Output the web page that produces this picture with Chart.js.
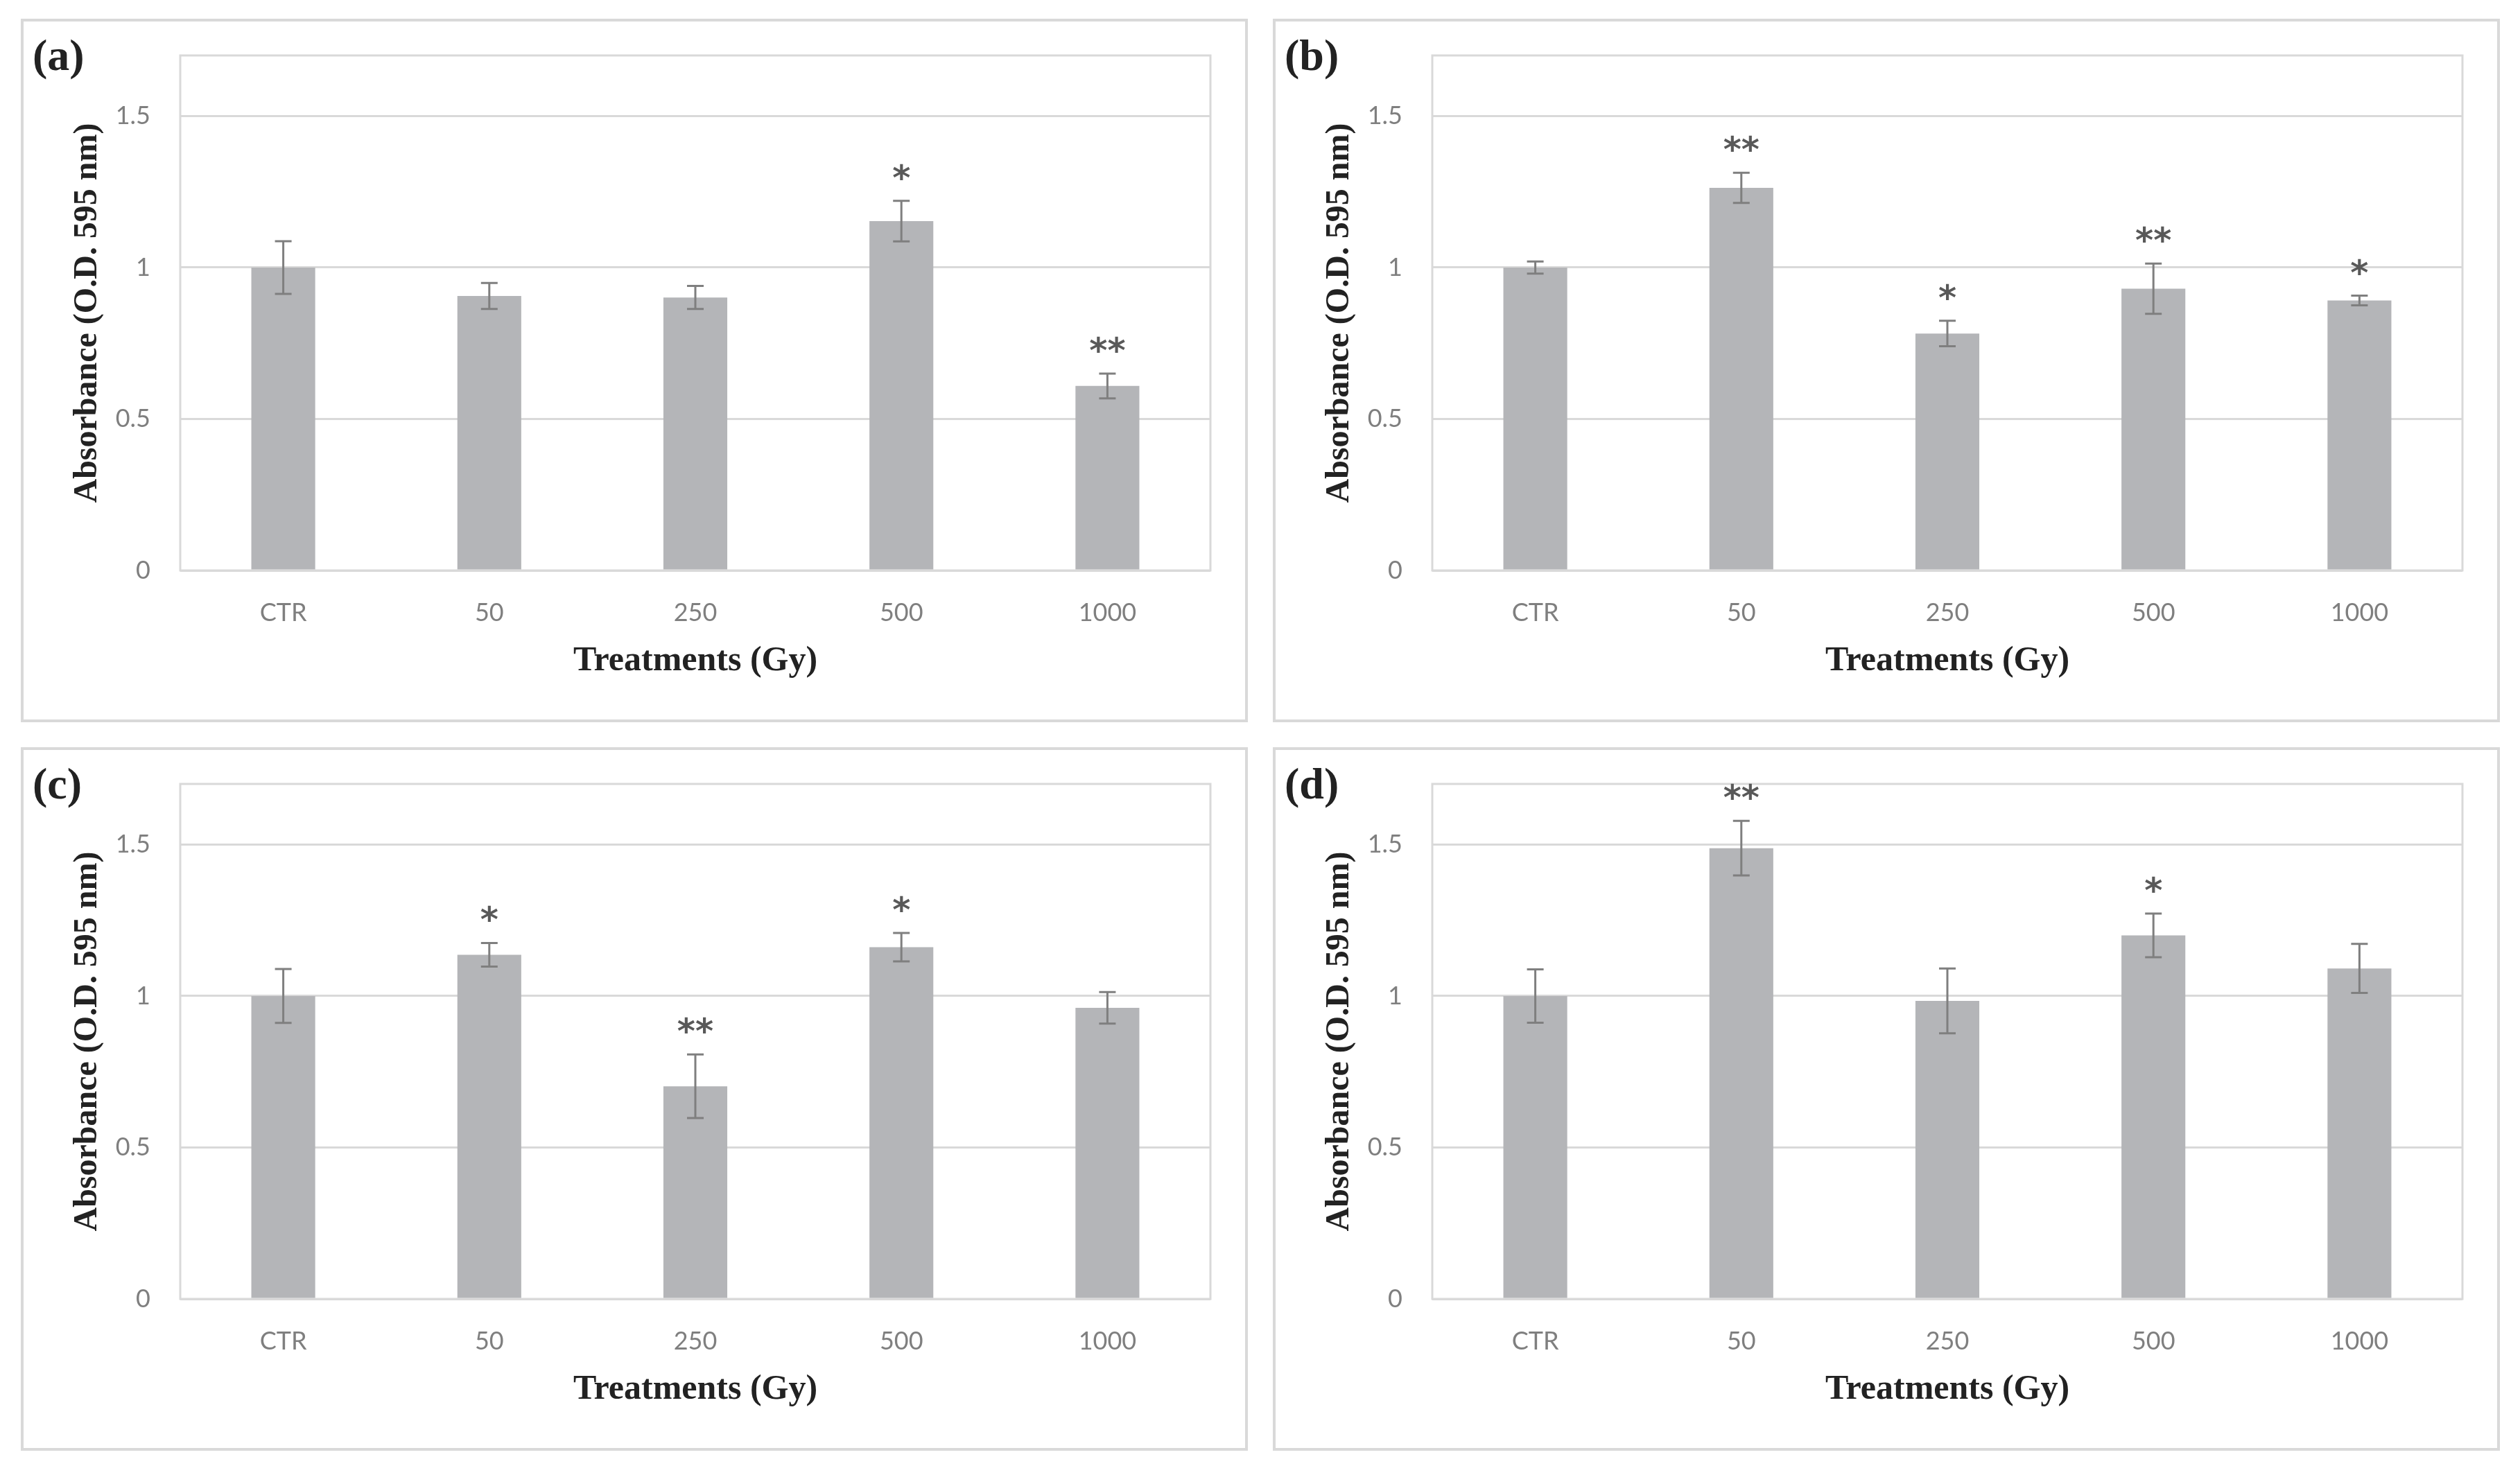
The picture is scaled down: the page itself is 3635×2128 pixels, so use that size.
<!DOCTYPE html>
<html lang="en">
<head>
<meta charset="UTF-8">
<title>Absorbance (O.D. 595 nm) by treatment</title>
<script src="https://cdn.jsdelivr.net/npm/chart.js"></script>
<style>
  body { margin: 0; background: #fff; width: 3635px; height: 2128px; position: relative; overflow: hidden; }
  .panel { position: absolute; width: 1770px; height: 1015px; border: 4px solid #d9d9d9; box-sizing: border-box; background: #fff; }
  .panel canvas { display: block; }
</style>
</head>
<body>
<div class="panel" style="left:30px; top:27px;"><canvas id="chartA" width="1762" height="1007"></canvas></div>
<div class="panel" style="left:1836px; top:27px;"><canvas id="chartB" width="1762" height="1007"></canvas></div>
<div class="panel" style="left:30px; top:1078px;"><canvas id="chartC" width="1762" height="1007"></canvas></div>
<div class="panel" style="left:1836px; top:1078px;"><canvas id="chartD" width="1762" height="1007"></canvas></div>
<script>
// categories and axis ticks
var categories = ['CTR', '50', '250', '500', '1000'];
var yTickValues = [0, 0.5, 1, 1.5];
var yMax = 1.7;

// (a)
var meansA = [1.00, 0.906, 0.901, 1.153, 0.609];
var errA   = [0.087, 0.043, 0.038, 0.067, 0.041];
var starsA = ['', '', '', '*', '**'];
// (b)
var meansB = [1.00, 1.263, 0.782, 0.930, 0.891];
var errB   = [0.020, 0.050, 0.042, 0.083, 0.016];
var starsB = ['', '**', '*', '**', '*'];
// (c)
var meansC = [1.00, 1.136, 0.702, 1.161, 0.961];
var errC   = [0.089, 0.039, 0.105, 0.047, 0.052];
var starsC = ['', '*', '**', '*', ''];
// (d)
var meansD = [1.00, 1.488, 0.984, 1.200, 1.091];
var errD   = [0.088, 0.090, 0.107, 0.072, 0.081];
var starsD = ['', '**', '', '*', ''];

function extrasPlugin(label, errs, stars) {
    return {
        id: 'extras',
        beforeDatasetsDraw: function(chart) {
            // frame round the plot area
            var a = chart.chartArea, ctx = chart.ctx;
            ctx.save();
            ctx.strokeStyle = '#d9d9d9';
            ctx.lineWidth = 3;
            ctx.strokeRect(a.left, a.top, a.right - a.left, a.bottom - a.top);
            ctx.restore();
        },
        afterDatasetsDraw: function(chart) {
            var ctx = chart.ctx, y = chart.scales.y;
            var vals = chart.data.datasets[0].data;
            var bars = chart.getDatasetMeta(0).data;
            ctx.save();
            bars.forEach(function(bar, i) {
                var top = y.getPixelForValue(vals[i] + errs[i]);
                var bot = y.getPixelForValue(vals[i] - errs[i]);
                ctx.strokeStyle = '#7f7f7f';
                ctx.lineWidth = 3;
                ctx.beginPath();
                ctx.moveTo(bar.x, top); ctx.lineTo(bar.x, bot);
                ctx.moveTo(bar.x - 12, top); ctx.lineTo(bar.x + 12, top);
                ctx.moveTo(bar.x - 12, bot); ctx.lineTo(bar.x + 12, bot);
                ctx.stroke();
                if (stars[i]) {
                    ctx.fillStyle = '#595959';
                    ctx.font = 'bold 50px "DejaVu Sans"';
                    ctx.textAlign = 'center';
                    ctx.textBaseline = 'alphabetic';
                    var m = ctx.measureText(stars[i]);
                    var cy = top - 42;
                    ctx.fillText(stars[i], bar.x, cy + (m.actualBoundingBoxAscent - m.actualBoundingBoxDescent) / 2);
                }
            });
            ctx.restore();
        },
        afterDraw: function(chart) {
            var ctx = chart.ctx;
            ctx.save();
            ctx.fillStyle = '#222';
            ctx.font = 'bold 64px "Liberation Serif"';
            ctx.textAlign = 'left';
            ctx.textBaseline = 'alphabetic';
            ctx.fillText(label, 13, 70);
            ctx.restore();
        }
    };
}

function makeChart(id, label, means, errs, stars) {
    return new Chart(document.getElementById(id), {
        type: 'bar',
        data: {
            labels: categories,
            datasets: [{
                data: means,
                backgroundColor: '#b4b5b8',
                categoryPercentage: 1,
                barPercentage: 0.31
            }]
        },
        options: {
            responsive: false,
            animation: false,
            devicePixelRatio: 1,
            layout: { padding: { top: 49, right: 50, left: 0, bottom: 0 } },
            plugins: { legend: { display: false }, tooltip: { enabled: false } },
            scales: {
                x: {
                    grid: { display: false },
                    border: { display: false },
                    ticks: { color: '#7f7f7f', padding: 32, font: { family: 'Lato', size: 36, weight: 400 } },
                    title: {
                        display: true, text: 'Treatments (Gy)', color: '#222',
                        font: { family: 'Liberation Serif', size: 50, weight: 'bold' },
                        padding: { top: 0, bottom: 54 }
                    },
                    afterFit: function(s) { s.height = 215; }
                },
                y: {
                    min: 0, max: yMax,
                    afterBuildTicks: function(s) { s.ticks = yTickValues.map(function(v) { return { value: v }; }); },
                    grid: { color: '#d9d9d9', lineWidth: 3, drawTicks: false },
                    border: { display: false },
                    ticks: {
                        color: '#7f7f7f', padding: 43, font: { family: 'Lato', size: 36, weight: 400 },
                        callback: function(v) { return String(v); }
                    },
                    title: {
                        display: true, text: 'Absorbance (O.D. 595 nm)', color: '#222',
                        font: { family: 'Liberation Serif', size: 48, weight: 'bold' },
                        padding: { top: 64, bottom: 0 }
                    },
                    afterFit: function(s) {
                        s.width = 226;
                        // tick padding should not push the plot area down
                        s.paddingTop = 0;
                        s.paddingBottom = 0;
                    }
                }
            }
        },
        plugins: [extrasPlugin(label, errs, stars)]
    });
}

makeChart('chartA', '(a)', meansA, errA, starsA);
makeChart('chartB', '(b)', meansB, errB, starsB);
makeChart('chartC', '(c)', meansC, errC, starsC);
makeChart('chartD', '(d)', meansD, errD, starsD);
</script>
</body>
</html>
